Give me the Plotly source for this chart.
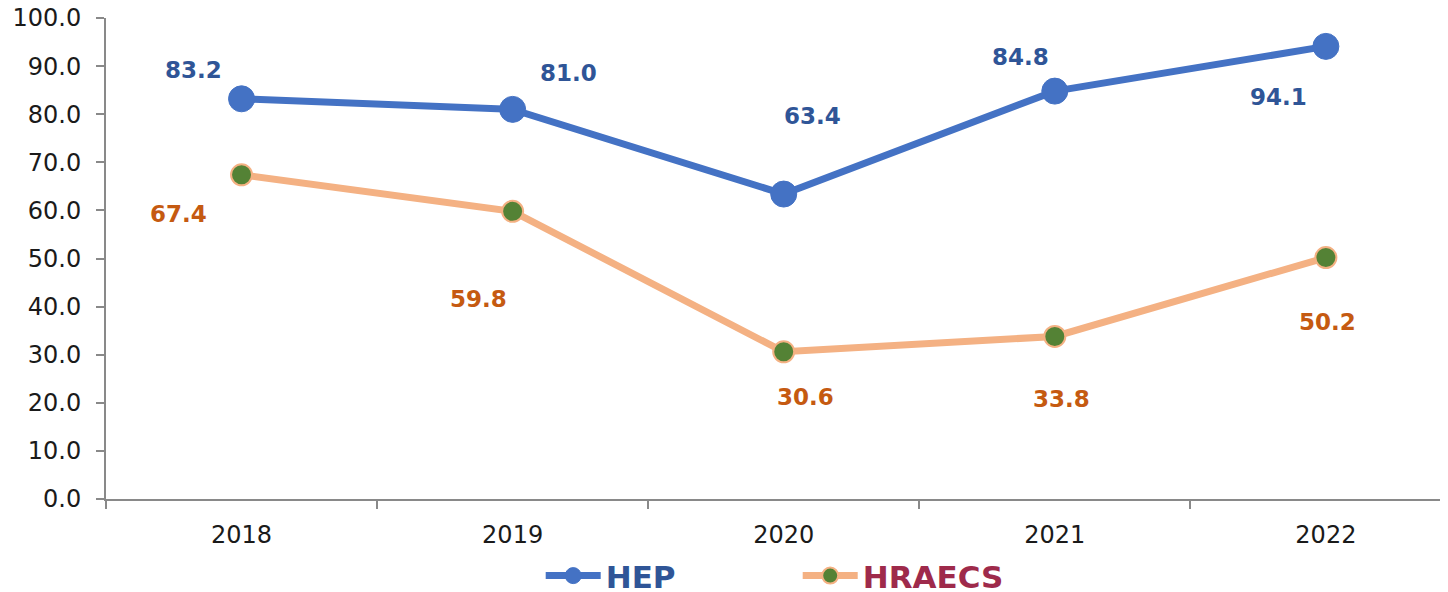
import plotly.graph_objects as go

years = ["2018", "2019", "2020", "2021", "2022"]
hep = [83.2, 81.0, 63.4, 84.8, 94.1]
hraecs = [67.4, 59.8, 30.6, 33.8, 50.2]
y_ticks = [0, 10, 20, 30, 40, 50, 60, 70, 80, 90, 100]

# label offsets (pixels) for data labels
hep_off = [(-48, 29), (56, 36), (29, 78), (-34, 34), (-47, -51)]
hra_off = [(-63, -39), (-34, -88), (22, -45), (7, -63), (2, -64)]

FONT = "DejaVu Sans"
fig = go.Figure()
fig.add_trace(go.Scatter(
    x=years, y=hep, name="<span style='color:#2F5597'>HEP</span>", mode="lines+markers",
    line=dict(color="#4472C4", width=7),
    marker=dict(color="#4472C4", size=26, line=dict(color="#4472C4", width=1)),
))
fig.add_trace(go.Scatter(
    x=years, y=hraecs, name="<span style='color:#9E2A4B'>HRAECS</span>", mode="lines+markers",
    line=dict(color="#F4B183", width=7),
    marker=dict(color="#548235", size=21, line=dict(color="#F4B183", width=2)),
))

for i, (v, (dx, dy)) in enumerate(zip(hep, hep_off)):
    fig.add_annotation(x=i, y=v, xref="x", yref="y", text=f"{v:.1f}", showarrow=False,
                       xshift=dx, yshift=dy,
                       font=dict(family=FONT, size=23, color="#2F5597", weight="bold"))
for i, (v, (dx, dy)) in enumerate(zip(hraecs, hra_off)):
    fig.add_annotation(x=i, y=v, xref="x", yref="y", text=f"{v:.1f}", showarrow=False,
                       xshift=dx, yshift=dy,
                       font=dict(family=FONT, size=23, color="#C55A11", weight="bold"))

fig.update_layout(
    width=1448, height=592,
    margin=dict(l=98, r=0, t=10, b=101, autoexpand=False),
    paper_bgcolor="white", plot_bgcolor="white",
    font=dict(family=FONT, size=24, color="#1a1a1a"),
    showlegend=True,
    legend=dict(orientation="h", x=0.322, xanchor="left", y=-0.16, yanchor="middle",
                itemwidth=55, entrywidth=187, entrywidthmode="pixels",
                font=dict(family=FONT, size=31, weight="bold"),
                bgcolor="rgba(0,0,0,0)"),
)
fig.update_xaxes(
    type="category", range=[-0.5, 4.48],
    showline=True, linecolor="#898989", linewidth=2,
    ticks="outside", tickson="boundaries", ticklen=8, tickcolor="#898989", tickwidth=2,
    showgrid=False, zeroline=False, ticklabelstandoff=13,
    tickfont=dict(family=FONT, size=24, color="#1a1a1a"),
)
fig.update_yaxes(
    range=[0, 100], tickvals=y_ticks, tickformat=".1f",
    showline=True, linecolor="#898989", linewidth=2,
    ticks="outside", ticklen=8, tickcolor="#898989", tickwidth=2,
    showgrid=False, zeroline=False, ticklabelstandoff=10,
    ticklabeloverflow="allow",
    tickfont=dict(family=FONT, size=24, color="#1a1a1a"),
)

fig.write_html("out.html")
